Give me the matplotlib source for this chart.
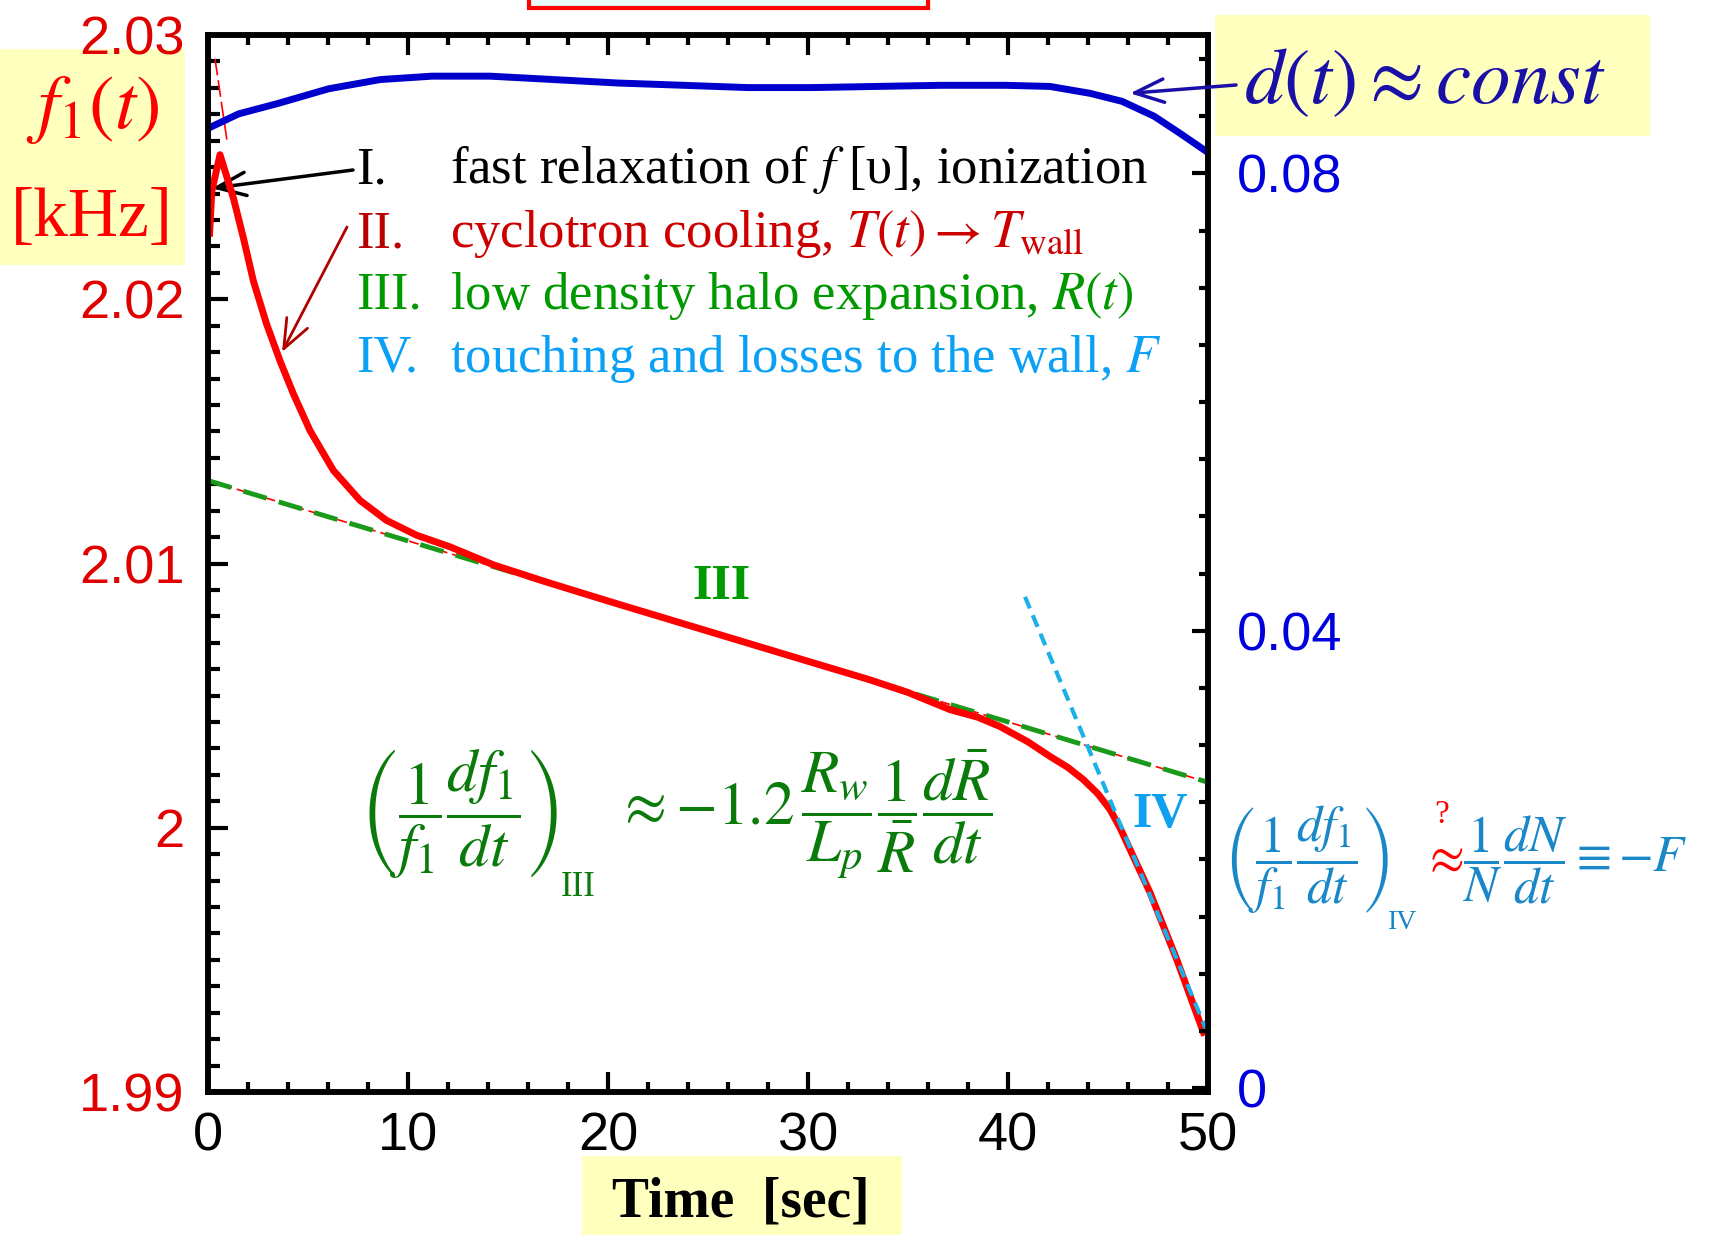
import numpy as np
import matplotlib.pyplot as plt
from matplotlib.patches import Rectangle
from matplotlib.ticker import MultipleLocator, FixedLocator, FuncFormatter

plt.rcParams['mathtext.fontset'] = 'stix'
plt.rcParams['font.family'] = ['Liberation Serif', 'DejaVu Serif']

# f1(t) in kHz, left axis
t_f1 = [0.08, 0.19, 0.6, 1.27, 1.77, 2.27, 2.93, 3.6, 4.27, 5.1, 6.27, 7.6, 8.93,
        10.43, 12.1, 14.27, 17.0, 20.0, 25.0, 30.0, 33.0, 35.0, 37.1, 38.5, 39.6,
        41.0, 42.1, 43.0, 43.77, 44.5, 45.1, 45.6, 46.1, 47.1, 48.43, 49.77]
f1 = [2.0225, 2.02409, 2.02547, 2.02383, 2.02232, 2.02069, 2.01906, 2.01767, 2.01642,
      2.01503, 2.01352, 2.01239, 2.01163, 2.01107, 2.01063, 2.00995, 2.00928, 2.00858,
      2.00744, 2.00630, 2.00562, 2.00512, 2.00447, 2.00418, 2.00383, 2.00325, 2.00270,
      2.00228, 2.00182, 2.00128, 2.00069, 2.00000, 1.99918, 1.99755, 1.99503, 1.99226]

# d(t), right axis
t_d = [0.08, 1.53, 3.47, 6.04, 8.6, 11.2, 14.1, 17.3, 20.5, 23.8, 27.0, 30.2, 33.4,
       36.6, 39.9, 42.1, 44.1, 45.7, 47.3, 48.6, 49.85]
d = [0.0840, 0.0852, 0.0861, 0.0874, 0.0882, 0.0885, 0.0885, 0.0882, 0.0879, 0.0877,
     0.0875, 0.0875, 0.0876, 0.0877, 0.0877, 0.0876, 0.0870, 0.0863, 0.0850, 0.0835,
     0.0820]

# fits
t_III = [0, 50]
f_III = [2.01314, 2.00172]
t_IV = [40.85, 50]
f_IV = [2.00874, 1.9922]
t_II = [0.35, 0.95]
f_II = [2.0291, 2.0260]

W, H = 1715, 1235


def P(x, y):
    return x / W, 1 - y / H


fig = plt.figure(figsize=(W / 100, H / 100), dpi=100)
ax = fig.add_axes([208 / W, 1 - 1092 / H, 1000 / W, 1057 / H])
ax2 = ax.twinx()

yellow = '#ffffbe'
red = '#ff0000'
blue = '#0000cc'
green_eq = '#0a7a0a'
blue_eq = '#1a88c8'

# curves
ax.plot(t_III, f_III, color=red, lw=1.2, ls=(0, (6, 3)), zorder=2)
ax.plot(t_III, f_III, color='#1a9a1a', lw=3.5, ls=(0, (5, 2.6)), zorder=3)
ax.plot(t_II, f_II, color=red, lw=1.2, ls=(0, (10, 3)), zorder=3)
ax.plot(t_f1, f1, color=red, lw=5, solid_joinstyle='round', zorder=4)
ax.plot(t_IV, f_IV, color='#1ab0e8', lw=3, ls=(0, (3, 1.8)), zorder=5)
ax2.plot(t_d, d, color=blue, lw=5, solid_joinstyle='round')

ax.set_xlim(0, 50)
ax.set_ylim(1.99, 2.03)
ax2.set_ylim(-0.00035, 0.0921)

ax.xaxis.set_major_locator(MultipleLocator(10))
ax.xaxis.set_minor_locator(MultipleLocator(2))
ax.yaxis.set_major_locator(MultipleLocator(0.01))
ax.yaxis.set_minor_locator(MultipleLocator(0.001))
ax.yaxis.set_major_formatter(FuncFormatter(lambda v, p: '%g' % round(v, 3)))
ax2.yaxis.set_major_locator(FixedLocator([0, 0.04, 0.08]))
ax2.yaxis.set_minor_locator(MultipleLocator(0.005))
ax2.yaxis.set_major_formatter(FuncFormatter(lambda v, p: '%g' % round(v, 3)))

ax.tick_params(axis='x', which='both', direction='in', top=True, bottom=True, width=3, pad=14)
ax.tick_params(axis='x', which='major', length=14.5)
ax.tick_params(axis='x', which='minor', length=7.5)
ax.tick_params(axis='y', which='both', direction='in', left=True, right=False, width=3, pad=17,
               labelcolor='#e00000')
ax.tick_params(axis='y', which='major', length=14.5)
ax.tick_params(axis='y', which='minor', length=8.5)
ax2.tick_params(axis='y', which='both', direction='in', width=3, pad=21, labelcolor='#0000dd')
ax2.tick_params(axis='y', which='major', length=11.5)
ax2.tick_params(axis='y', which='minor', length=6.5)
for lab in ax.get_xticklabels() + ax.get_yticklabels() + ax2.get_yticklabels():
    lab.set_fontfamily('Liberation Sans')
    lab.set_fontsize(39)
for a in (ax, ax2):
    for s in a.spines.values():
        s.set_linewidth(4)

# boxes behind everything
for (x0, y0, x1, y1), fc, ec in [((0, 49, 185, 265), yellow, 'none'),
                                 ((1215, 15, 1650, 136), yellow, 'none'),
                                 ((582, 1156, 902, 1240), yellow, 'none'),
                                 ((529, -60, 928, 8), '#e8fbfb', red)]:
    fig.patches.append(Rectangle(P(x0, y1), (x1 - x0) / W, (y1 - y0) / H,
                                 transform=fig.transFigure, facecolor=fc,
                                 edgecolor=ec, lw=3, zorder=-5))

# axis labels
fig.text(*P(93, 110), r'$f_1(t)$', color=red, fontsize=55, ha='center', va='center')
fig.text(*P(92, 219), '[kHz]', color=red, fontsize=50, ha='center', va='center')
fig.text(*P(741, 1203), 'Time  [sec]', color='k', fontsize=40, fontweight='bold',
         ha='center', va='center')
fig.text(*P(1425, 84), r'$d(t) \approx const$', color='#1a10a8', fontsize=57,
         ha='center', va='center')

# phase list
rows = [('I.', 'fast relaxation of $f$ [\u03c5], ionization', 'k', 'k', 183),
        ('II.', r'cyclotron cooling, $T(t) \rightarrow T_{\mathrm{wall}}$', '#b80000', '#cc0000', 247),
        ('III.', r'low density halo expansion, $R(t)$', '#009900', '#009900', 309),
        ('IV.', r'touching and losses to the wall, $F$', '#0aa0f5', '#0aa0f5', 372)]
for num, txt, c1, c2, yb in rows:
    fig.text(*P(356, yb), num, color=c1, fontsize=38, va='baseline')
    fig.text(*P(450, yb), txt, color=c2, fontsize=38, va='baseline')

fig.text(*P(721, 587), 'III', color='#009900', fontsize=36, fontweight='bold',
         ha='center', va='center')
fig.text(*P(1160, 815), 'IV', color='#10a0f0', fontsize=36, fontweight='bold',
         ha='center', va='center')

# phase III formula
fig.text(*P(359, 814), r'$\left(\dfrac{1}{f_1}\dfrac{df_1}{dt}\right)$',
         color=green_eq, fontsize=44, ha='left', va='center')
fig.text(*P(561, 896), 'III', color=green_eq, fontsize=25, ha='left', va='baseline')
fig.text(*P(616, 814), r'$\approx {-1.2}\,\dfrac{R_w}{L_p}\dfrac{1}{\bar{R}}\dfrac{d\bar{R}}{dt}$',
         color=green_eq, fontsize=44, ha='left', va='center')

# phase IV formula
fig.text(*P(1223, 860), r'$\left(\dfrac{1}{f_1}\dfrac{df_1}{dt}\right)$',
         color=blue_eq, fontsize=36.5, ha='left', va='center')
fig.text(*P(1388, 929), 'IV', color=blue_eq, fontsize=20, ha='left', va='baseline')
fig.text(*P(1443, 860), r'$\approx$', color=red, fontsize=36.5, ha='center', va='center')
fig.text(*P(1442, 815), '?', color=red, fontsize=24, ha='center', va='center')
fig.text(*P(1462, 860), r'$\dfrac{1}{N}\dfrac{dN}{dt}\equiv {-F}$',
         color=blue_eq, fontsize=36.5, ha='left', va='center')

# arrows
head = '->,head_length=0.7,head_width=0.28'
ax.annotate('', xy=(0.2, 2.0242), xycoords='data', xytext=(353, H - 170),
            textcoords='figure pixels',
            arrowprops=dict(arrowstyle=head, lw=2.5, color='k', mutation_scale=30,
                            shrinkA=0, shrinkB=0))
ax.annotate('', xy=(3.7, 2.0180), xycoords='data', xytext=(347, H - 227),
            textcoords='figure pixels',
            arrowprops=dict(arrowstyle=head, lw=2, color='#b00000', mutation_scale=30,
                            shrinkA=0, shrinkB=0))
ax2.annotate('', xy=(46.1, 0.0870), xycoords='data', xytext=(1236, H - 85),
             textcoords='figure pixels', annotation_clip=False,
             arrowprops=dict(arrowstyle=head, lw=2.5, color='#1a10a8', mutation_scale=30,
                             shrinkA=0, shrinkB=0))

fig.savefig('out.png', dpi=100)
